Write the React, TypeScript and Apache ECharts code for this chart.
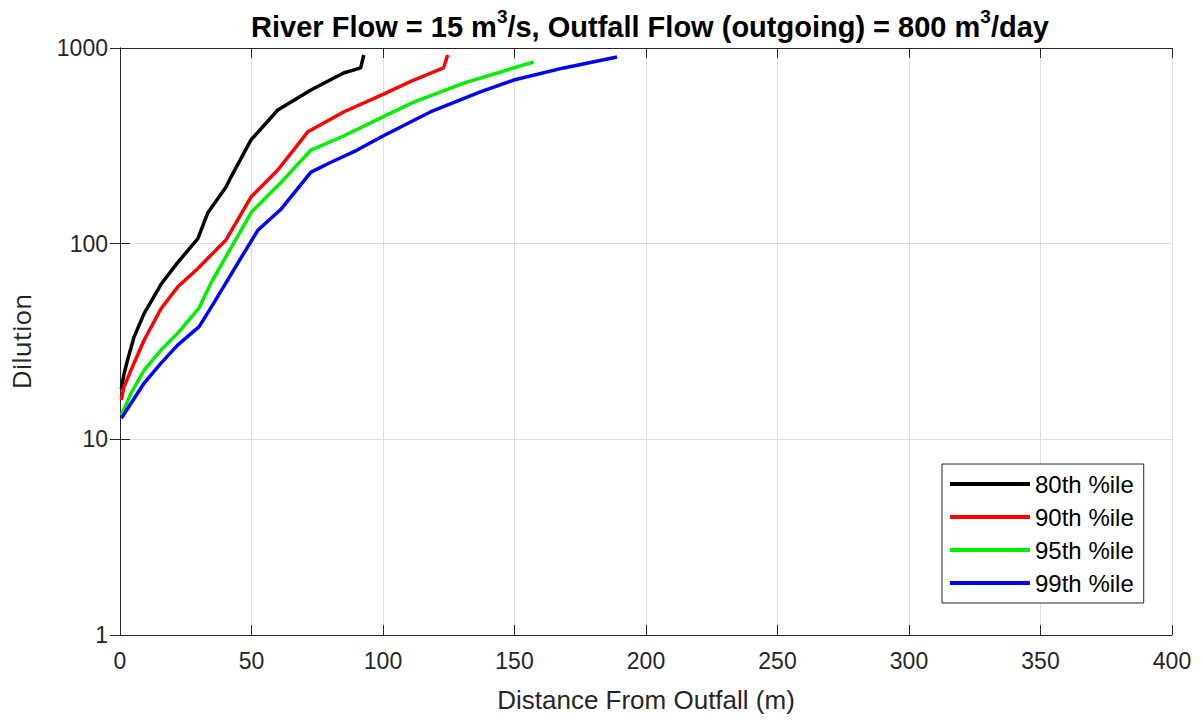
import React, { useEffect, useRef } from "react";
import * as echarts from "echarts";

const seriesNames = ["80th %ile", "90th %ile", "95th %ile", "99th %ile"];
const seriesColors = ["#000000", "#ff0000", "#00ee00", "#0000ff"];

const x80 = [0.5, 1.5, 2.9, 5.4, 9.2, 15.6, 21.9, 29.6, 33.4, 40.3, 42.2, 49.8, 60, 72.6, 85, 91.5, 92.7];
const y80 = [18, 21.5, 25.5, 33.5, 44, 62, 80, 106, 144, 195, 219, 339, 482, 610, 745, 791, 921];

const x90 = [0.5, 1.5, 4.2, 9.2, 15.6, 21.9, 29.5, 40.3, 49.8, 60, 71.4, 77.5, 85, 100, 111.7, 123, 124.6];
const y90 = [15.9, 18.5, 22.6, 32.2, 46.5, 60, 74.5, 104.5, 173, 238, 373, 414, 471, 580, 686, 791, 921];

const x95 = [0.5, 4.2, 9.2, 15.6, 21.9, 30.1, 34.6, 43.3, 50, 61, 72.6, 85, 100, 111.7, 130.7, 149.7, 157.3];
const y95 = [13.3, 17.2, 22.6, 28.6, 34.8, 47, 63, 101, 145, 204, 301, 355, 445, 529, 662, 791, 848];

const x99 = [0.5, 4.2, 9.2, 15.6, 21.9, 30.1, 35.7, 44.8, 52.4, 61, 72.6, 80, 90, 100, 118, 137, 149.7, 168.7, 189];
const y99 = [12.8, 15.3, 19.4, 24.5, 30.3, 37.7, 49.8, 79.6, 117, 149, 232, 260, 300, 355, 471, 596, 686, 791, 900];

const xTicks = { min: 0, max: 400, interval: 50 };
const yTicks = { min: 1, max: 1000 };

const titleText = "River Flow = 15 m{sup|3}/s, Outfall Flow (outgoing) = 800 m{sup|3}/day";

const FONT = "Liberation Sans, Arial, Helvetica, sans-serif";

function pairs(xs: number[], ys: number[]) {
  return xs.map((x, i) => [x, ys[i]]);
}

export default function App() {
  const ref = useRef<HTMLDivElement>(null);
  useEffect(() => {
    if (!ref.current) return;
    const chart = echarts.init(ref.current, null, { renderer: "svg" });
    const data = [pairs(x80, y80), pairs(x90, y90), pairs(x95, y95), pairs(x99, y99)];
    const axisColor = "#262626";
    const gridColor = "#dedede";
    chart.setOption({
      animation: false,
      backgroundColor: "#ffffff",
      title: {
        text: titleText,
        left: 645,
        textAlign: "center",
        top: 2,
        textStyle: {
          fontFamily: FONT,
          fontSize: 29,
          fontWeight: "bold",
          color: "#000000",
          lineHeight: 40,
          rich: {
            sup: {
              fontFamily: FONT,
              fontSize: 19,
              fontWeight: "bold",
              color: "#000000",
              verticalAlign: "top",
              lineHeight: 40,
              padding: [0, 0, 16, 0],
            },
          },
        },
      },
      grid: { left: 119, right: 31, top: 48, bottom: 89, containLabel: false },
      legend: {
        orient: "vertical",
        left: 942,
        top: 464,
        backgroundColor: "#ffffff",
        borderColor: "#262626",
        borderWidth: 1,
        borderRadius: 0,
        padding: [8, 10, 8, 8],
        itemWidth: 80,
        itemHeight: 4,
        itemGap: 9,
        itemTextGap: 6,
        textStyle: { fontFamily: FONT, fontSize: 24, color: "#000000", lineHeight: 24 },
        data: seriesNames.map((n) => ({ name: n, icon: "rect" })),
      },
      xAxis: [
        {
          type: "value",
          position: "bottom",
          min: xTicks.min,
          max: xTicks.max,
          interval: xTicks.interval,
          name: "Distance From Outfall (m)",
          nameLocation: "middle",
          nameGap: 52,
          nameTextStyle: { fontFamily: FONT, fontSize: 26, color: axisColor },
          axisLine: { show: true, lineStyle: { color: axisColor, width: 1 } },
          axisTick: { show: true, inside: true, length: 10, lineStyle: { color: axisColor } },
          axisLabel: { fontFamily: FONT, fontSize: 23, color: axisColor, margin: 14 },
          splitLine: { show: true, lineStyle: { color: gridColor, width: 1 } },
        },
        {
          type: "value",
          position: "top",
          min: xTicks.min,
          max: xTicks.max,
          interval: xTicks.interval,
          axisLine: { show: true, lineStyle: { color: axisColor, width: 1 } },
          axisTick: { show: true, inside: true, length: 10, lineStyle: { color: axisColor } },
          axisLabel: { show: false },
          splitLine: { show: false },
        },
      ],
      yAxis: [
        {
          type: "log",
          logBase: 10,
          position: "left",
          min: yTicks.min,
          max: yTicks.max,
          name: "Dilution",
          nameLocation: "middle",
          nameGap: 86,
          nameTextStyle: { fontFamily: "Open Sans, Noto Sans, sans-serif", fontSize: 26, color: axisColor },
          axisLine: { show: true, lineStyle: { color: axisColor, width: 1 } },
          axisTick: { show: true, inside: true, length: 10, lineStyle: { color: axisColor } },
          minorTick: { show: false },
          axisLabel: {
            fontFamily: FONT,
            fontSize: 23,
            color: axisColor,
            margin: 12,
            formatter: (v: number) => String(Math.round(v)),
          },
          splitLine: { show: true, lineStyle: { color: gridColor, width: 1 } },
        },
        {
          type: "log",
          logBase: 10,
          position: "right",
          min: yTicks.min,
          max: yTicks.max,
          axisLine: { show: true, lineStyle: { color: axisColor, width: 1 } },
          axisTick: { show: true, inside: true, length: 10, lineStyle: { color: axisColor } },
          axisLabel: { show: false },
          splitLine: { show: false },
        },
      ],
      series: seriesNames.map((name, i) => ({
        name,
        type: "line",
        xAxisIndex: 0,
        yAxisIndex: 0,
        data: data[i],
        showSymbol: false,
        symbol: "none",
        smooth: false,
        color: seriesColors[i],
        lineStyle: { color: seriesColors[i], width: 3.5 },
      })),
    });
    return () => chart.dispose();
  }, []);
  return <div ref={ref} style={{ width: 1203, height: 724, position: "absolute", left: 0, top: 0 }} />;
}
